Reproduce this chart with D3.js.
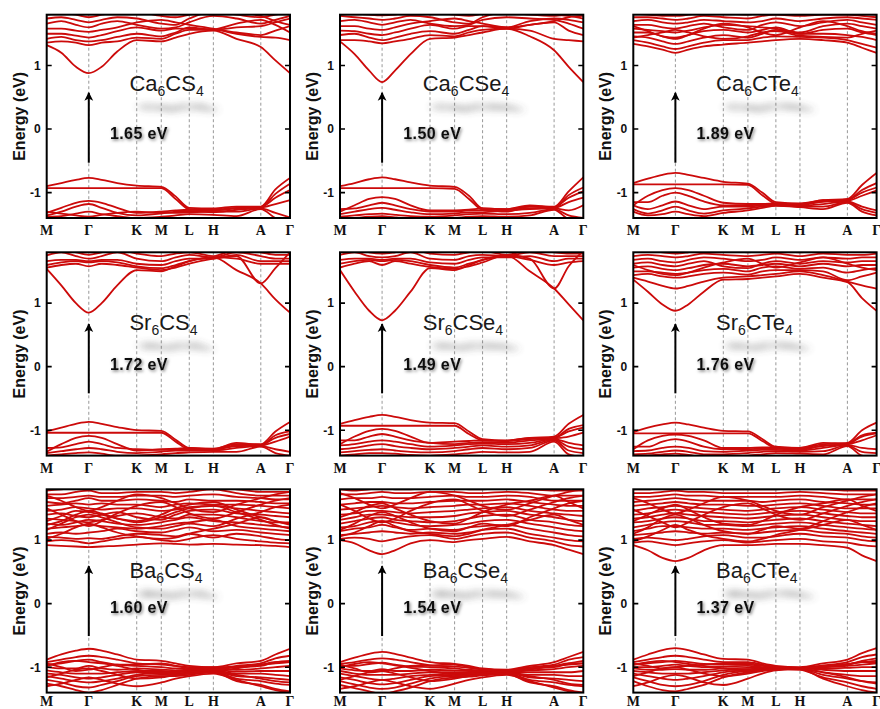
<!DOCTYPE html>
<html><head><meta charset="utf-8">
<script src="https://cdn.jsdelivr.net/npm/d3@7"></script>
<style>body{margin:0;background:#fff} svg{display:block}</style>
</head><body><svg id="fig" width="880" height="709"></svg>
<script>
// k-path and energy axis
const kLabels = ["M","Γ","K","M","L","H","A","Γ"];
const kTicks = [0, 0.173, 0.37, 0.471, 0.586, 0.685, 0.88, 1];
const kGrid = [0, 0.06, 0.12, 0.173, 0.226, 0.29, 0.37, 0.471, 0.53, 0.586, 0.685, 0.78, 0.88, 0.94, 1];
const yTicks = [-1, 0, 1];
const cations = ["Ca", "Sr", "Ba"];
const anions = ["S", "Se", "Te"];
const gapLabels = [["1.65", "1.50", "1.89"], ["1.72", "1.49", "1.76"], ["1.60", "1.54", "1.37"]];

// band energies (eV) sampled on kGrid
const bandsCaCS4 = [
  [1.32,1.20,0.98,0.88,0.98,1.22,1.40,1.38,1.44,1.50,1.55,1.42,1.29,1.08,0.88],
  [1.36,1.38,1.36,1.32,1.36,1.38,1.44,1.42,1.50,1.56,1.56,1.52,1.48,1.55,1.62],
  [1.42,1.45,1.40,1.38,1.40,1.45,1.50,1.46,1.52,1.60,1.56,1.60,1.62,1.68,1.74],
  [1.50,1.50,1.47,1.44,1.48,1.54,1.60,1.55,1.58,1.58,1.57,1.66,1.72,1.64,1.52],
  [1.58,1.58,1.55,1.53,1.56,1.60,1.68,1.72,1.68,1.64,1.58,1.50,1.45,1.44,1.40],
  [1.66,1.70,1.64,1.60,1.66,1.70,1.64,1.58,1.60,1.68,1.78,1.74,1.66,1.72,1.78],
  [1.74,1.76,1.72,1.68,1.72,1.76,1.74,1.66,1.64,1.74,1.85,1.80,1.76,1.80,1.84],
  [1.80,1.82,1.80,1.76,1.80,1.84,1.84,1.78,1.76,1.80,1.88,1.84,1.78,1.70,1.64],
  [-0.90,-0.85,-0.80,-0.77,-0.80,-0.85,-0.89,-0.91,-1.06,-1.24,-1.25,-1.22,-1.22,-0.95,-0.77],
  [-0.93,-0.93,-0.93,-0.93,-0.93,-0.93,-0.93,-0.93,-1.10,-1.26,-1.27,-1.24,-1.23,-1.02,-0.86],
  [-1.32,-1.24,-1.16,-1.13,-1.16,-1.24,-1.32,-1.30,-1.28,-1.27,-1.28,-1.25,-1.23,-1.08,-0.96],
  [-1.36,-1.30,-1.22,-1.18,-1.24,-1.32,-1.36,-1.33,-1.30,-1.29,-1.31,-1.27,-1.24,-1.18,-1.12],
  [-1.30,-1.33,-1.36,-1.38,-1.35,-1.32,-1.30,-1.32,-1.32,-1.31,-1.30,-1.30,-1.25,-1.32,-1.39],
  [-1.38,-1.37,-1.33,-1.30,-1.34,-1.37,-1.40,-1.38,-1.36,-1.34,-1.35,-1.37,-1.26,-1.40,-1.46]
];
const bandsCaCSe4 = [
  [1.38,1.18,0.92,0.74,0.92,1.18,1.42,1.44,1.48,1.52,1.58,1.46,1.24,0.98,0.74],
  [1.40,1.40,1.38,1.35,1.38,1.42,1.48,1.46,1.52,1.56,1.58,1.55,1.42,1.40,1.38],
  [1.48,1.50,1.44,1.40,1.44,1.50,1.54,1.50,1.56,1.62,1.58,1.64,1.68,1.55,1.48],
  [1.55,1.54,1.50,1.48,1.52,1.58,1.64,1.58,1.62,1.62,1.60,1.70,1.74,1.72,1.68],
  [1.62,1.62,1.58,1.56,1.60,1.66,1.70,1.74,1.70,1.66,1.60,1.64,1.70,1.76,1.78],
  [1.70,1.72,1.68,1.64,1.68,1.72,1.66,1.62,1.64,1.72,1.76,1.74,1.72,1.66,1.58],
  [1.78,1.76,1.74,1.72,1.74,1.78,1.76,1.68,1.66,1.76,1.84,1.80,1.78,1.82,1.85],
  [1.84,1.82,1.80,1.79,1.80,1.84,1.84,1.80,1.78,1.82,1.88,1.84,1.80,1.78,1.74],
  [-0.90,-0.85,-0.79,-0.76,-0.79,-0.84,-0.89,-0.91,-1.05,-1.25,-1.26,-1.22,-1.22,-0.98,-0.76],
  [-0.93,-0.93,-0.93,-0.93,-0.93,-0.93,-0.93,-0.94,-1.10,-1.27,-1.28,-1.25,-1.24,-1.04,-0.92],
  [-1.30,-1.20,-1.10,-1.07,-1.10,-1.20,-1.28,-1.28,-1.27,-1.25,-1.26,-1.20,-1.23,-1.08,-0.98],
  [-1.26,-1.25,-1.20,-1.16,-1.20,-1.26,-1.30,-1.30,-1.28,-1.28,-1.30,-1.22,-1.24,-1.15,-1.08],
  [-1.34,-1.30,-1.26,-1.24,-1.27,-1.31,-1.34,-1.33,-1.31,-1.31,-1.28,-1.26,-1.25,-1.28,-1.20],
  [-1.38,-1.36,-1.34,-1.33,-1.35,-1.37,-1.38,-1.36,-1.34,-1.33,-1.34,-1.32,-1.26,-1.36,-1.40],
  [-1.42,-1.40,-1.38,-1.37,-1.39,-1.41,-1.42,-1.40,-1.38,-1.37,-1.38,-1.36,-1.27,-1.42,-1.46]
];
const bandsCaCTe4 = [
  [1.34,1.30,1.25,1.20,1.25,1.30,1.33,1.36,1.38,1.40,1.42,1.40,1.36,1.28,1.20],
  [1.40,1.36,1.30,1.26,1.30,1.36,1.40,1.40,1.44,1.46,1.45,1.44,1.40,1.34,1.28],
  [1.46,1.44,1.38,1.34,1.38,1.44,1.48,1.44,1.50,1.56,1.50,1.50,1.48,1.45,1.40],
  [1.52,1.52,1.46,1.44,1.48,1.54,1.56,1.52,1.56,1.60,1.50,1.56,1.58,1.52,1.48],
  [1.58,1.56,1.54,1.52,1.55,1.60,1.64,1.62,1.60,1.58,1.52,1.62,1.66,1.62,1.58],
  [1.64,1.64,1.60,1.58,1.62,1.66,1.60,1.56,1.64,1.68,1.62,1.68,1.72,1.68,1.64],
  [1.70,1.72,1.68,1.66,1.68,1.72,1.70,1.68,1.70,1.74,1.70,1.74,1.76,1.74,1.72],
  [1.76,1.76,1.74,1.72,1.74,1.78,1.76,1.74,1.78,1.80,1.78,1.80,1.80,1.78,1.76],
  [1.82,1.80,1.78,1.78,1.80,1.84,1.82,1.80,1.84,1.85,1.84,1.84,1.84,1.82,1.80],
  [1.44,1.48,1.52,1.56,1.52,1.46,1.42,1.46,1.52,1.54,1.47,1.45,1.44,1.50,1.55],
  [1.62,1.54,1.46,1.42,1.48,1.58,1.66,1.60,1.52,1.48,1.60,1.70,1.62,1.54,1.50],
  [-0.85,-0.78,-0.72,-0.69,-0.72,-0.77,-0.83,-0.86,-1.00,-1.15,-1.17,-1.12,-1.10,-0.88,-0.69],
  [-0.87,-0.87,-0.87,-0.87,-0.87,-0.87,-0.87,-0.88,-1.04,-1.17,-1.18,-1.14,-1.12,-0.96,-0.85],
  [-1.20,-1.05,-0.96,-0.93,-0.96,-1.05,-1.16,-1.18,-1.18,-1.17,-1.18,-1.12,-1.11,-1.00,-0.92],
  [-1.15,-1.15,-1.05,-1.00,-1.05,-1.14,-1.20,-1.20,-1.19,-1.18,-1.20,-1.14,-1.13,-1.05,-0.97],
  [-1.20,-1.26,-1.20,-1.14,-1.20,-1.26,-1.22,-1.22,-1.20,-1.19,-1.21,-1.18,-1.14,-1.22,-1.28],
  [-1.26,-1.33,-1.28,-1.22,-1.28,-1.33,-1.28,-1.25,-1.22,-1.20,-1.22,-1.22,-1.15,-1.26,-1.32],
  [-1.30,-1.36,-1.34,-1.30,-1.34,-1.37,-1.32,-1.28,-1.24,-1.21,-1.23,-1.26,-1.16,-1.30,-1.36]
];
const bandsSrCS4 = [
  [1.54,1.28,1.00,0.85,1.00,1.28,1.52,1.50,1.58,1.66,1.72,1.52,1.31,1.06,0.85],
  [1.56,1.60,1.62,1.58,1.62,1.60,1.56,1.52,1.56,1.62,1.70,1.74,1.31,1.55,1.80],
  [1.60,1.64,1.66,1.64,1.66,1.64,1.58,1.55,1.60,1.66,1.72,1.70,1.62,1.62,1.62],
  [1.66,1.68,1.68,1.66,1.68,1.68,1.62,1.60,1.66,1.70,1.70,1.76,1.66,1.66,1.66],
  [1.75,1.80,1.74,1.70,1.74,1.80,1.70,1.66,1.72,1.76,1.72,1.80,1.74,1.70,1.70],
  [1.82,1.86,1.80,1.76,1.80,1.84,1.78,1.74,1.78,1.80,1.74,1.84,1.80,1.76,1.76],
  [-1.02,-0.96,-0.90,-0.87,-0.90,-0.95,-1.00,-1.01,-1.15,-1.28,-1.29,-1.22,-1.22,-1.02,-0.87],
  [-1.04,-1.04,-1.04,-1.04,-1.04,-1.04,-1.04,-1.04,-1.18,-1.30,-1.30,-1.25,-1.24,-1.08,-1.02],
  [-1.34,-1.22,-1.12,-1.09,-1.12,-1.22,-1.32,-1.30,-1.29,-1.28,-1.30,-1.20,-1.23,-1.12,-1.06],
  [-1.28,-1.27,-1.22,-1.18,-1.22,-1.28,-1.30,-1.31,-1.30,-1.30,-1.31,-1.24,-1.24,-1.18,-1.10],
  [-1.36,-1.33,-1.30,-1.28,-1.30,-1.34,-1.36,-1.34,-1.32,-1.32,-1.32,-1.28,-1.25,-1.30,-1.34],
  [-1.40,-1.38,-1.36,-1.35,-1.37,-1.40,-1.40,-1.38,-1.36,-1.35,-1.34,-1.34,-1.26,-1.36,-1.40]
];
const bandsSrCSe4 = [
  [1.52,1.18,0.88,0.73,0.88,1.18,1.55,1.52,1.60,1.68,1.75,1.50,1.23,0.98,0.73],
  [1.56,1.62,1.66,1.60,1.66,1.62,1.57,1.54,1.58,1.64,1.76,1.70,1.23,1.58,1.82],
  [1.62,1.66,1.68,1.66,1.68,1.66,1.60,1.56,1.62,1.68,1.74,1.68,1.60,1.64,1.66],
  [1.68,1.70,1.70,1.68,1.70,1.70,1.64,1.62,1.68,1.72,1.72,1.74,1.66,1.70,1.70],
  [1.76,1.80,1.74,1.72,1.74,1.80,1.70,1.68,1.74,1.76,1.74,1.80,1.74,1.74,1.74],
  [1.84,1.86,1.80,1.78,1.80,1.84,1.78,1.76,1.80,1.82,1.76,1.84,1.80,1.78,1.78],
  [-0.90,-0.84,-0.79,-0.76,-0.79,-0.84,-0.88,-0.89,-1.02,-1.14,-1.16,-1.12,-1.10,-0.90,-0.76],
  [-0.93,-0.93,-0.93,-0.93,-0.93,-0.93,-0.93,-0.93,-1.06,-1.16,-1.17,-1.14,-1.12,-0.98,-0.92],
  [-1.22,-1.10,-1.01,-0.98,-1.01,-1.10,-1.20,-1.18,-1.17,-1.16,-1.17,-1.12,-1.12,-1.02,-0.96],
  [-1.16,-1.16,-1.10,-1.06,-1.10,-1.16,-1.20,-1.22,-1.20,-1.19,-1.20,-1.16,-1.13,-1.10,-1.04],
  [-1.24,-1.22,-1.18,-1.16,-1.18,-1.22,-1.26,-1.24,-1.22,-1.21,-1.22,-1.20,-1.14,-1.20,-1.24],
  [-1.30,-1.28,-1.24,-1.22,-1.25,-1.28,-1.30,-1.28,-1.26,-1.24,-1.26,-1.24,-1.15,-1.26,-1.30],
  [-1.35,-1.33,-1.31,-1.30,-1.32,-1.34,-1.35,-1.33,-1.30,-1.28,-1.30,-1.28,-1.16,-1.32,-1.36],
  [-1.40,-1.38,-1.36,-1.36,-1.37,-1.39,-1.40,-1.38,-1.36,-1.34,-1.35,-1.34,-1.18,-1.38,-1.42]
];
const bandsSrCTe4 = [
  [1.37,1.18,0.98,0.88,0.98,1.18,1.37,1.38,1.40,1.42,1.46,1.40,1.33,1.08,0.88],
  [1.40,1.34,1.27,1.23,1.27,1.34,1.40,1.42,1.44,1.46,1.50,1.44,1.34,1.28,1.23],
  [1.44,1.46,1.42,1.40,1.42,1.46,1.48,1.45,1.50,1.52,1.52,1.50,1.36,1.42,1.48],
  [1.50,1.50,1.48,1.46,1.48,1.52,1.54,1.50,1.56,1.58,1.54,1.56,1.48,1.52,1.55],
  [1.56,1.58,1.54,1.52,1.55,1.60,1.62,1.58,1.60,1.62,1.58,1.62,1.58,1.60,1.60],
  [1.62,1.64,1.60,1.58,1.62,1.66,1.58,1.55,1.62,1.66,1.62,1.66,1.64,1.66,1.66],
  [1.68,1.70,1.66,1.64,1.68,1.72,1.70,1.66,1.68,1.72,1.68,1.72,1.70,1.72,1.72],
  [1.74,1.76,1.74,1.72,1.74,1.78,1.76,1.74,1.76,1.78,1.74,1.78,1.76,1.76,1.78],
  [1.80,1.82,1.80,1.78,1.80,1.84,1.82,1.80,1.82,1.84,1.80,1.84,1.82,1.82,1.84],
  [1.60,1.52,1.46,1.44,1.48,1.56,1.64,1.70,1.62,1.56,1.64,1.72,1.62,1.56,1.52],
  [-1.03,-0.96,-0.91,-0.88,-0.91,-0.96,-1.01,-1.02,-1.14,-1.26,-1.28,-1.22,-1.20,-1.00,-0.88],
  [-1.05,-1.05,-1.05,-1.05,-1.05,-1.05,-1.05,-1.05,-1.17,-1.28,-1.29,-1.25,-1.22,-1.08,-1.04],
  [-1.30,-1.16,-1.09,-1.07,-1.09,-1.16,-1.28,-1.28,-1.27,-1.27,-1.28,-1.20,-1.21,-1.10,-1.05],
  [-1.26,-1.26,-1.18,-1.14,-1.18,-1.26,-1.30,-1.30,-1.29,-1.29,-1.31,-1.24,-1.22,-1.16,-1.08],
  [-1.33,-1.32,-1.28,-1.26,-1.28,-1.33,-1.34,-1.32,-1.31,-1.31,-1.32,-1.28,-1.23,-1.28,-1.30],
  [-1.38,-1.37,-1.34,-1.32,-1.34,-1.38,-1.38,-1.36,-1.34,-1.33,-1.34,-1.33,-1.24,-1.34,-1.36],
  [-1.42,-1.40,-1.38,-1.37,-1.39,-1.42,-1.42,-1.40,-1.38,-1.36,-1.37,-1.38,-1.25,-1.40,-1.42]
];
const bandsBaCS4 = [
  [0.92,0.91,0.90,0.89,0.90,0.91,0.93,0.95,0.94,0.93,0.94,0.93,0.92,0.91,0.89],
  [0.98,1.00,0.98,0.95,0.98,1.02,1.05,1.00,0.98,1.02,1.08,1.02,0.98,0.96,0.95],
  [1.05,1.04,1.02,1.03,1.02,1.06,1.10,1.08,1.06,1.10,1.04,1.10,1.06,1.02,1.00],
  [1.10,1.12,1.10,1.12,1.14,1.18,1.14,1.12,1.16,1.20,1.14,1.16,1.12,1.10,1.08],
  [1.18,1.20,1.22,1.24,1.22,1.20,1.18,1.22,1.26,1.28,1.32,1.22,1.18,1.16,1.14],
  [1.26,1.24,1.28,1.32,1.30,1.26,1.24,1.28,1.32,1.36,1.30,1.28,1.24,1.22,1.20],
  [1.34,1.32,1.30,1.28,1.32,1.38,1.42,1.36,1.34,1.40,1.40,1.36,1.30,1.28,1.28],
  [1.40,1.42,1.38,1.36,1.40,1.44,1.36,1.32,1.40,1.46,1.48,1.42,1.40,1.38,1.36],
  [1.46,1.48,1.52,1.50,1.48,1.50,1.50,1.46,1.48,1.52,1.54,1.50,1.46,1.44,1.42],
  [1.54,1.56,1.58,1.56,1.58,1.56,1.56,1.52,1.56,1.58,1.56,1.56,1.54,1.52,1.50],
  [1.60,1.58,1.62,1.66,1.62,1.62,1.64,1.62,1.60,1.64,1.62,1.62,1.60,1.58,1.58],
  [1.66,1.66,1.68,1.70,1.68,1.68,1.70,1.70,1.68,1.70,1.72,1.68,1.66,1.64,1.64],
  [1.72,1.72,1.76,1.78,1.74,1.74,1.76,1.76,1.74,1.76,1.80,1.74,1.70,1.70,1.70],
  [1.78,1.80,1.82,1.84,1.82,1.80,1.82,1.82,1.80,1.82,1.86,1.80,1.76,1.76,1.76],
  [1.16,1.26,1.36,1.40,1.36,1.28,1.20,1.18,1.22,1.26,1.22,1.34,1.44,1.52,1.56],
  [1.30,1.38,1.46,1.44,1.40,1.34,1.30,1.40,1.50,1.56,1.60,1.48,1.36,1.30,1.26],
  [1.02,1.10,1.20,1.26,1.20,1.12,1.06,1.02,1.04,1.10,1.18,1.26,1.36,1.30,1.24],
  [1.50,1.40,1.30,1.22,1.30,1.42,1.54,1.60,1.52,1.42,1.34,1.44,1.56,1.62,1.66],
  [1.70,1.62,1.52,1.46,1.52,1.62,1.72,1.66,1.58,1.50,1.44,1.56,1.66,1.72,1.76],
  [1.24,1.30,1.40,1.46,1.42,1.34,1.28,1.36,1.44,1.50,1.54,1.44,1.32,1.24,1.18],
  [-0.88,-0.80,-0.74,-0.71,-0.74,-0.80,-0.88,-0.90,-0.94,-0.98,-1.00,-0.94,-0.90,-0.80,-0.71],
  [-0.92,-0.88,-0.84,-0.82,-0.84,-0.88,-0.94,-0.96,-0.98,-1.00,-1.02,-0.98,-0.94,-0.86,-0.82],
  [-0.96,-0.94,-0.90,-0.88,-0.92,-0.96,-0.98,-1.00,-1.02,-1.03,-1.00,-1.00,-0.98,-0.92,-0.90],
  [-1.00,-1.02,-1.02,-0.98,-1.02,-1.04,-1.02,-1.04,-1.05,-1.05,-1.02,-1.04,-1.02,-1.00,-0.98],
  [-1.05,-1.08,-1.10,-1.10,-1.10,-1.08,-1.06,-1.06,-1.07,-1.06,-1.04,-1.07,-1.06,-1.06,-1.06],
  [-1.10,-1.12,-1.16,-1.18,-1.16,-1.12,-1.08,-1.10,-1.08,-1.07,-1.05,-1.10,-1.10,-1.12,-1.14],
  [-1.14,-1.18,-1.22,-1.24,-1.22,-1.18,-1.12,-1.08,-1.10,-1.08,-1.06,-1.14,-1.16,-1.18,-1.20],
  [-1.20,-1.24,-1.30,-1.32,-1.28,-1.22,-1.14,-1.12,-1.12,-1.10,-1.07,-1.18,-1.22,-1.26,-1.28],
  [-1.26,-1.30,-1.36,-1.40,-1.36,-1.28,-1.18,-1.14,-1.14,-1.12,-1.08,-1.22,-1.28,-1.34,-1.38],
  [-0.94,-1.00,-1.06,-1.04,-1.00,-0.96,-0.96,-0.94,-0.98,-1.02,-1.06,-1.02,-0.96,-0.94,-0.92],
  [-0.98,-0.92,-0.90,-0.92,-0.94,-0.98,-1.04,-1.10,-1.12,-1.08,-1.04,-1.00,-0.96,-0.92,-0.92],
  [-1.16,-1.10,-1.04,-1.02,-1.06,-1.12,-1.18,-1.16,-1.12,-1.10,-1.08,-1.12,-1.18,-1.22,-1.24],
  [-1.30,-1.26,-1.20,-1.16,-1.20,-1.26,-1.30,-1.24,-1.18,-1.14,-1.10,-1.20,-1.30,-1.36,-1.40]
];
const bandsBaCSe4 = [
  [1.00,0.95,0.84,0.78,0.84,0.95,1.00,0.97,1.00,1.02,1.05,0.98,0.92,0.85,0.78],
  [1.02,1.04,1.02,0.98,1.02,1.06,1.08,1.02,1.06,1.10,1.12,1.04,0.98,0.92,0.90],
  [1.08,1.10,1.12,1.14,1.12,1.10,1.12,1.10,1.12,1.16,1.18,1.10,1.04,1.00,0.98],
  [1.14,1.18,1.20,1.24,1.20,1.16,1.18,1.16,1.20,1.22,1.24,1.18,1.12,1.08,1.06],
  [1.20,1.22,1.28,1.30,1.28,1.24,1.22,1.24,1.26,1.30,1.32,1.26,1.20,1.16,1.14],
  [1.26,1.30,1.34,1.36,1.32,1.30,1.28,1.30,1.34,1.38,1.40,1.32,1.28,1.24,1.22],
  [1.32,1.36,1.40,1.40,1.38,1.36,1.36,1.38,1.42,1.44,1.46,1.40,1.36,1.32,1.30],
  [1.40,1.42,1.46,1.46,1.44,1.42,1.44,1.46,1.48,1.50,1.52,1.46,1.42,1.40,1.38],
  [1.48,1.50,1.52,1.54,1.52,1.50,1.52,1.54,1.56,1.56,1.58,1.54,1.48,1.46,1.46],
  [1.56,1.58,1.60,1.60,1.58,1.58,1.60,1.62,1.62,1.62,1.64,1.60,1.56,1.54,1.54],
  [1.64,1.66,1.66,1.68,1.66,1.66,1.68,1.70,1.68,1.68,1.70,1.68,1.62,1.62,1.62],
  [1.72,1.72,1.74,1.76,1.74,1.74,1.76,1.76,1.74,1.74,1.76,1.74,1.70,1.70,1.70],
  [1.80,1.78,1.80,1.82,1.80,1.80,1.82,1.82,1.80,1.80,1.82,1.80,1.78,1.78,1.78],
  [1.16,1.26,1.38,1.44,1.38,1.28,1.18,1.14,1.20,1.26,1.22,1.36,1.50,1.58,1.62],
  [1.36,1.44,1.54,1.58,1.50,1.40,1.30,1.26,1.34,1.44,1.56,1.62,1.70,1.60,1.50],
  [1.06,1.12,1.22,1.30,1.22,1.14,1.10,1.06,1.10,1.16,1.24,1.32,1.40,1.32,1.24],
  [1.56,1.46,1.34,1.28,1.34,1.46,1.58,1.64,1.56,1.46,1.38,1.48,1.60,1.66,1.70],
  [1.74,1.66,1.56,1.50,1.56,1.66,1.76,1.70,1.62,1.54,1.48,1.58,1.70,1.76,1.80],
  [-0.92,-0.85,-0.79,-0.76,-0.79,-0.85,-0.92,-0.95,-0.98,-1.02,-1.04,-0.98,-0.92,-0.84,-0.76],
  [-0.95,-0.92,-0.88,-0.86,-0.88,-0.92,-0.97,-0.99,-1.01,-1.03,-1.05,-1.00,-0.96,-0.88,-0.84],
  [-0.98,-0.98,-0.95,-0.93,-0.96,-0.99,-1.00,-1.02,-1.04,-1.05,-1.06,-1.02,-1.00,-0.94,-0.90],
  [-1.02,-1.05,-1.06,-1.03,-1.06,-1.06,-1.04,-1.05,-1.06,-1.07,-1.07,-1.05,-1.03,-1.00,-0.98],
  [-1.06,-1.10,-1.12,-1.12,-1.12,-1.10,-1.08,-1.08,-1.08,-1.08,-1.08,-1.08,-1.08,-1.08,-1.06],
  [-1.10,-1.14,-1.18,-1.20,-1.18,-1.14,-1.12,-1.10,-1.10,-1.09,-1.08,-1.12,-1.12,-1.14,-1.14],
  [-1.16,-1.20,-1.25,-1.27,-1.25,-1.20,-1.14,-1.12,-1.11,-1.10,-1.09,-1.16,-1.18,-1.20,-1.22],
  [-1.22,-1.27,-1.32,-1.34,-1.32,-1.26,-1.18,-1.14,-1.13,-1.11,-1.10,-1.20,-1.24,-1.28,-1.30],
  [-1.28,-1.33,-1.38,-1.42,-1.38,-1.32,-1.22,-1.16,-1.15,-1.13,-1.11,-1.24,-1.30,-1.36,-1.40],
  [-0.96,-1.02,-1.08,-1.06,-1.02,-0.98,-0.97,-0.96,-1.00,-1.04,-1.08,-1.04,-0.98,-0.96,-0.94],
  [-1.00,-0.95,-0.92,-0.94,-0.97,-1.01,-1.06,-1.12,-1.14,-1.10,-1.06,-1.02,-0.98,-0.94,-0.94],
  [-1.20,-1.14,-1.08,-1.06,-1.10,-1.16,-1.22,-1.18,-1.14,-1.12,-1.10,-1.14,-1.20,-1.26,-1.28],
  [-1.34,-1.30,-1.24,-1.20,-1.24,-1.30,-1.34,-1.26,-1.20,-1.16,-1.12,-1.22,-1.32,-1.38,-1.42]
];
const bandsBaCTe4 = [
  [0.92,0.84,0.72,0.67,0.72,0.84,0.92,0.92,0.93,0.94,0.94,0.92,0.88,0.76,0.67],
  [0.96,0.98,0.95,0.92,0.95,0.98,1.00,0.96,0.98,1.00,1.02,0.98,0.96,0.92,0.90],
  [1.02,1.04,1.02,1.00,1.02,1.06,1.08,1.04,1.04,1.06,1.10,1.06,1.04,1.00,0.98],
  [1.08,1.10,1.12,1.14,1.12,1.10,1.12,1.10,1.12,1.14,1.16,1.12,1.10,1.06,1.04],
  [1.14,1.18,1.22,1.22,1.20,1.18,1.18,1.16,1.18,1.20,1.22,1.18,1.14,1.12,1.10],
  [1.20,1.24,1.28,1.30,1.28,1.24,1.24,1.22,1.24,1.26,1.28,1.24,1.20,1.18,1.16],
  [1.28,1.30,1.34,1.36,1.34,1.30,1.30,1.28,1.30,1.32,1.34,1.30,1.26,1.24,1.22],
  [1.34,1.36,1.40,1.42,1.40,1.38,1.36,1.34,1.36,1.38,1.40,1.36,1.32,1.30,1.30],
  [1.40,1.42,1.46,1.48,1.46,1.44,1.42,1.40,1.42,1.44,1.46,1.42,1.38,1.36,1.36],
  [1.46,1.50,1.52,1.54,1.52,1.50,1.48,1.46,1.48,1.50,1.52,1.48,1.44,1.42,1.42],
  [1.54,1.56,1.58,1.60,1.58,1.56,1.56,1.54,1.54,1.56,1.58,1.54,1.50,1.50,1.50],
  [1.60,1.62,1.64,1.66,1.64,1.62,1.62,1.62,1.60,1.62,1.64,1.60,1.58,1.56,1.56],
  [1.68,1.68,1.70,1.72,1.70,1.70,1.68,1.68,1.68,1.68,1.70,1.68,1.64,1.64,1.64],
  [1.74,1.74,1.76,1.78,1.76,1.76,1.74,1.74,1.74,1.74,1.76,1.74,1.72,1.72,1.72],
  [1.80,1.80,1.82,1.84,1.82,1.82,1.80,1.80,1.80,1.80,1.82,1.80,1.78,1.78,1.78],
  [1.10,1.20,1.34,1.40,1.34,1.24,1.14,1.10,1.16,1.22,1.18,1.30,1.44,1.52,1.58],
  [1.30,1.40,1.50,1.56,1.48,1.36,1.26,1.24,1.30,1.40,1.52,1.58,1.64,1.54,1.46],
  [0.98,1.06,1.16,1.24,1.16,1.08,1.02,0.98,1.02,1.08,1.16,1.24,1.32,1.24,1.16],
  [1.48,1.38,1.28,1.20,1.28,1.40,1.52,1.58,1.50,1.40,1.32,1.42,1.54,1.60,1.64],
  [1.66,1.58,1.48,1.42,1.48,1.58,1.68,1.62,1.54,1.46,1.40,1.52,1.62,1.68,1.72],
  [-0.88,-0.80,-0.73,-0.70,-0.73,-0.80,-0.87,-0.88,-0.94,-0.98,-1.00,-0.94,-0.88,-0.78,-0.70],
  [-0.92,-0.88,-0.84,-0.82,-0.84,-0.88,-0.92,-0.92,-0.96,-1.00,-1.01,-0.97,-0.92,-0.84,-0.80],
  [-0.96,-0.94,-0.92,-0.90,-0.92,-0.95,-0.96,-0.96,-0.98,-1.00,-1.01,-0.99,-0.96,-0.90,-0.86],
  [-1.00,-1.00,-0.98,-0.96,-0.98,-1.00,-0.99,-0.98,-1.00,-1.01,-1.02,-1.00,-0.98,-0.96,-0.94],
  [-1.02,-1.04,-1.04,-1.03,-1.04,-1.04,-1.02,-1.01,-1.01,-1.02,-1.02,-1.02,-1.01,-1.00,-1.00],
  [-1.06,-1.08,-1.10,-1.10,-1.10,-1.08,-1.05,-1.03,-1.02,-1.02,-1.02,-1.04,-1.06,-1.06,-1.06],
  [-1.10,-1.14,-1.18,-1.20,-1.18,-1.14,-1.08,-1.05,-1.03,-1.02,-1.03,-1.08,-1.12,-1.14,-1.14],
  [-1.16,-1.22,-1.28,-1.30,-1.28,-1.22,-1.12,-1.06,-1.04,-1.03,-1.03,-1.12,-1.18,-1.22,-1.24],
  [-1.22,-1.30,-1.36,-1.38,-1.34,-1.28,-1.16,-1.08,-1.05,-1.03,-1.04,-1.16,-1.24,-1.30,-1.34],
  [-0.94,-0.98,-1.02,-1.00,-0.98,-0.96,-0.94,-0.94,-0.97,-1.00,-1.02,-0.98,-0.95,-0.92,-0.90],
  [-0.96,-0.92,-0.90,-0.92,-0.95,-0.98,-1.02,-1.06,-1.05,-1.03,-1.02,-0.99,-0.96,-0.92,-0.92],
  [-1.14,-1.08,-1.02,-1.00,-1.04,-1.10,-1.14,-1.10,-1.06,-1.04,-1.02,-1.08,-1.16,-1.22,-1.26],
  [-1.30,-1.24,-1.16,-1.12,-1.16,-1.24,-1.28,-1.18,-1.10,-1.05,-1.03,-1.18,-1.30,-1.36,-1.40]
];
const panelBands = [
  [bandsCaCS4, bandsCaCSe4, bandsCaCTe4],
  [bandsSrCS4, bandsSrCSe4, bandsSrCTe4],
  [bandsBaCS4, bandsBaCSe4, bandsBaCTe4]
];

// ---- layout ----
const W = 243.3, H = 203.3;
const colX = [46.7, 340, 633.3];
const rowY = [14.7, 252.3, 489.3];
const kLabelGap = [17, 17, 13];
// per-row annotation placement (energies in eV, k as path fraction)
const rowNotes = [
  {formulaE: 0.60, gapE: -0.15, arrow: [-0.53, 0.57]},
  {formulaE: 0.58, gapE: -0.06, arrow: [-0.42, 0.67]},
  {formulaE: 0.41, gapE: -0.14, arrow: [-0.51, 0.59]}
];
const bandColor = "#cc0a0a";
const sans = "Liberation Sans, Arial, sans-serif";

const svg = d3.select("#fig");
const defs = svg.append("defs");
defs.append("clipPath").attr("id", "plotClip")
  .append("rect").attr("width", W).attr("height", H);
defs.append("filter").attr("id", "haze")
  .attr("x", "-40%").attr("y", "-150%").attr("width", "180%").attr("height", "400%")
  .append("feGaussianBlur").attr("stdDeviation", "5.5 8");
const ds = defs.append("filter").attr("id", "soft")
  .attr("x", "-20%").attr("y", "-50%").attr("width", "140%").attr("height", "200%");
ds.append("feDropShadow").attr("dx", 1.2).attr("dy", 1.5).attr("stdDeviation", 1.4)
  .attr("flood-color", "#000").attr("flood-opacity", 0.5);
const mk = defs.append("marker").attr("id", "head").attr("viewBox", "0 0 10 10")
  .attr("refX", 9).attr("refY", 5).attr("markerWidth", 4.4).attr("markerHeight", 5)
  .attr("markerUnits", "strokeWidth").attr("orient", "auto");
mk.append("path").attr("d", "M0,0 L10,5 L0,10 L2.5,5 Z").attr("fill", "#000");

const x = d3.scaleLinear().domain([0, 1]).range([0, W]);
const y = d3.scaleLinear().domain([-1.4, 1.8]).range([H, 0]);
const line = d3.line().x((d, i) => x(kGrid[i])).y(d => y(d)).curve(d3.curveMonotoneX);

function formula(sel, cat, an) {
  sel.append("tspan").text(cat);
  sel.append("tspan").attr("font-size", 14).attr("dy", 5).text("6");
  sel.append("tspan").attr("dy", -5).text("C" + an);
  sel.append("tspan").attr("font-size", 14).attr("dy", 5).text("4");
}

panelBands.forEach((row, r) => {
  row.forEach((bands, c) => {
    const g = svg.append("g").attr("transform", `translate(${colX[c]},${rowY[r]})`);
    const notes = rowNotes[r];

    // high-symmetry guides
    g.append("g").selectAll("line").data(kTicks.slice(1, -1)).join("line")
      .attr("x1", d => x(d)).attr("x2", d => x(d)).attr("y1", 0).attr("y2", H)
      .attr("stroke", "#8c8c8c").attr("stroke-width", 0.9).attr("stroke-dasharray", "3,2.5");

    // compound name haze (sits behind the bands)
    const fx = x(0.34), fy = y(notes.formulaE);
    const sh = g.append("text")
      .attr("transform", `translate(${fx + 11},${fy + 19}) scale(1,0.45)`)
      .attr("font-family", sans).attr("font-size", 22).attr("font-weight", "bold")
      .attr("fill", "#444").attr("opacity", 0.75).attr("filter", "url(#haze)");
    formula(sh, cations[r], anions[c]);

    // bands
    g.append("g").attr("clip-path", "url(#plotClip)")
      .selectAll("path").data(bands).join("path")
      .attr("d", line).attr("fill", "none")
      .attr("stroke", bandColor).attr("stroke-width", 1.8);

    // frame and ticks
    g.append("rect").attr("width", W).attr("height", H)
      .attr("fill", "none").attr("stroke", "#000").attr("stroke-width", 2);
    g.append("g").selectAll("path").data(yTicks).join("path")
      .attr("d", d => `M0,${y(d)}h5M${W},${y(d)}h-5`)
      .attr("stroke", "#000").attr("stroke-width", 1.6);

    // energy tick labels
    g.append("g").selectAll("text").data(yTicks).join("text")
      .attr("x", -6).attr("y", d => y(d)).attr("dy", "0.36em")
      .attr("text-anchor", "end").attr("font-family", sans)
      .attr("font-weight", "bold").attr("font-size", 12).attr("fill", "#111")
      .text(d => d);

    g.append("text")
      .attr("transform", `translate(-22,${H / 2}) rotate(-90)`)
      .attr("text-anchor", "middle").attr("font-family", sans)
      .attr("font-weight", "bold").attr("font-size", 16).attr("fill", "#111")
      .text("Energy (eV)");

    // k-point labels
    g.append("g").selectAll("text").data(kTicks).join("text")
      .attr("x", d => x(d)).attr("y", H + kLabelGap[r])
      .attr("text-anchor", "middle")
      .attr("font-family", "Liberation Serif, Times New Roman, serif")
      .attr("font-weight", "bold").attr("font-size", 14).attr("fill", "#111")
      .text((d, i) => kLabels[i]);

    // compound name
    const ft = g.append("text").attr("x", fx).attr("y", fy)
      .attr("font-family", sans).attr("font-size", 22).attr("fill", "#1a1a1a");
    formula(ft, cations[r], anions[c]);

    // gap arrow and value
    g.append("line")
      .attr("x1", x(kTicks[1])).attr("x2", x(kTicks[1]))
      .attr("y1", y(notes.arrow[0])).attr("y2", y(notes.arrow[1]))
      .attr("stroke", "#000").attr("stroke-width", 2).attr("marker-end", "url(#head)");
    g.append("text").attr("x", x(0.26)).attr("y", y(notes.gapE))
      .attr("font-family", sans).attr("letter-spacing", 0.4)
      .attr("font-weight", "bold").attr("font-size", 16).attr("fill", "#111")
      .attr("filter", "url(#soft)")
      .text(gapLabels[r][c] + " eV");
  });
});
</script>
</body></html>
